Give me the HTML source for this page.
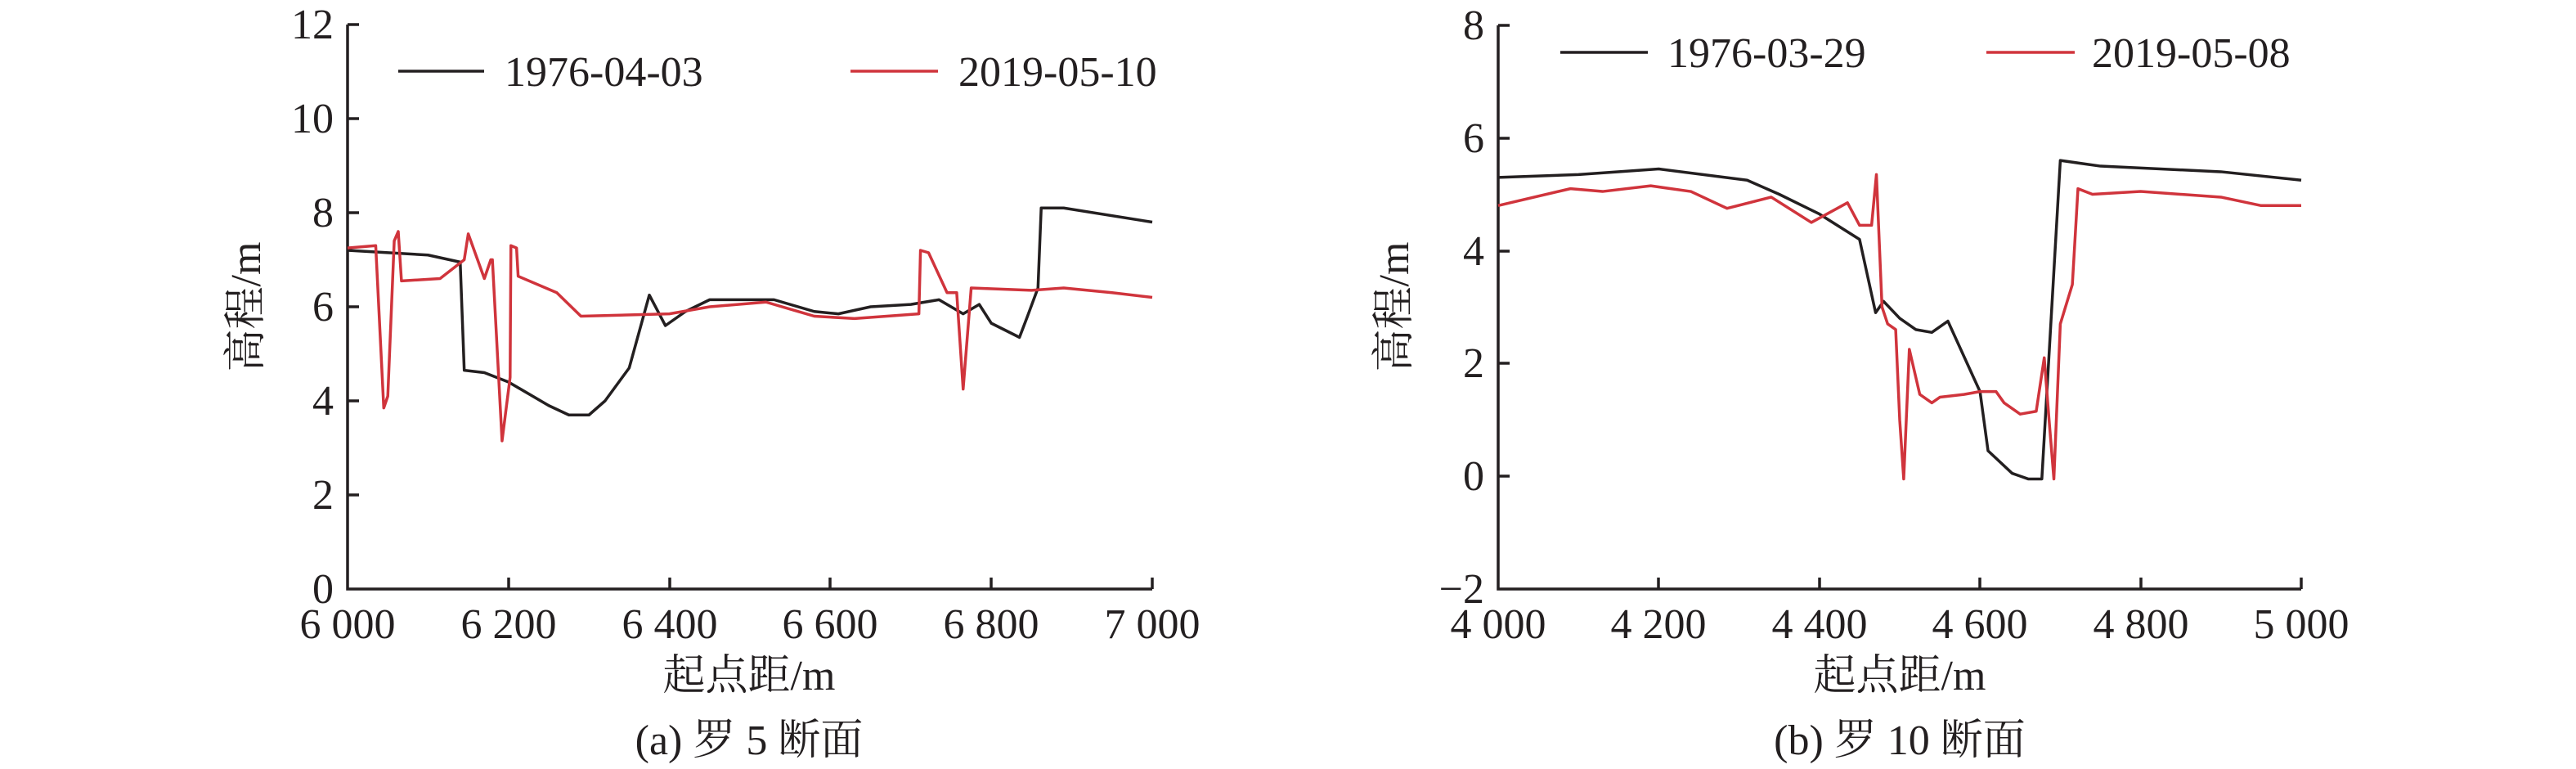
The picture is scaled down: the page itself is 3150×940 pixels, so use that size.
<!DOCTYPE html>
<html><head><meta charset="utf-8"><style>
html,body{margin:0;padding:0;background:#fff;}
svg{display:block;}
</style></head><body>
<svg width="3150" height="940" viewBox="0 0 3150 940" xmlns="http://www.w3.org/2000/svg" font-family="'Liberation Serif', 'Noto Serif CJK SC', serif" fill="#231f20">
<!-- Chart A -->
<g stroke="#231f20" stroke-width="3.5" fill="none">
<polyline points="425,30 425,720 1409,720"/>
<line x1="1409" y1="720" x2="1409" y2="706"/>
<line x1="622" y1="720" x2="622" y2="706"/><line x1="819" y1="720" x2="819" y2="706"/><line x1="1015" y1="720" x2="1015" y2="706"/><line x1="1212" y1="720" x2="1212" y2="706"/>
<line x1="425" y1="30" x2="439" y2="30"/><line x1="425" y1="145" x2="439" y2="145"/><line x1="425" y1="260" x2="439" y2="260"/><line x1="425" y1="375" x2="439" y2="375"/><line x1="425" y1="490" x2="439" y2="490"/><line x1="425" y1="605" x2="439" y2="605"/>
</g>
<g font-size="52" text-anchor="end">
<text x="408" y="737">0</text><text x="408" y="622">2</text><text x="408" y="507">4</text><text x="408" y="392">6</text><text x="408" y="277">8</text><text x="408" y="162">10</text><text x="408" y="47">12</text>
</g>
<g font-size="52" text-anchor="middle">
<text x="425" y="780">6 000</text><text x="622" y="780">6 200</text><text x="819" y="780">6 400</text><text x="1015" y="780">6 600</text><text x="1212" y="780">6 800</text><text x="1409" y="780">7 000</text>
<text x="916" y="843">起点距/m</text>
<text x="916" y="922">(a) 罗 5 断面</text>
<text transform="translate(318,375) rotate(-90)">高程/m</text>
</g>
<g transform="matrix(0.984,0,0,-57.5,-5479,720)" fill="none" stroke-linejoin="round">
<polyline vector-effect="non-scaling-stroke" stroke="#231f20" stroke-width="3.5" points="6000,7.2 6100,7.1 6140,6.95 6145,4.65 6170,4.6 6200,4.4 6250,3.9 6275,3.7 6300,3.7 6320,4.0 6350,4.7 6375,6.25 6395,5.6 6420,5.9 6450,6.15 6530,6.15 6580,5.9 6610,5.85 6650,6.0 6700,6.05 6735,6.15 6765,5.85 6785,6.05 6800,5.65 6835,5.35 6845,5.8 6858,6.4 6862,8.1 6890,8.1 7000,7.8"/>
<polyline vector-effect="non-scaling-stroke" stroke="#d0343c" stroke-width="3.5" points="6000,7.25 6035,7.3 6045,3.85 6050,4.1 6058,7.4 6063,7.6 6067,6.55 6115,6.6 6145,7.0 6150,7.55 6170,6.6 6178,7.0 6180,7.0 6192,3.15 6202,4.5 6203,7.3 6210,7.25 6212,6.65 6260,6.3 6290,5.8 6400,5.85 6450,6.0 6520,6.1 6580,5.8 6630,5.75 6710,5.85 6712,7.2 6722,7.15 6745,6.3 6757,6.3 6765,4.25 6775,6.4 6850,6.35 6890,6.4 6950,6.3 7000,6.2"/>
</g>
<line x1="487" y1="87" x2="592" y2="87" stroke="#231f20" stroke-width="3.5"/>
<text x="617" y="105" font-size="52">1976-04-03</text>
<line x1="1040" y1="87" x2="1147" y2="87" stroke="#d0343c" stroke-width="3.5"/>
<text x="1172" y="105" font-size="52">2019-05-10</text>

<!-- Chart B -->
<g stroke="#231f20" stroke-width="3.5" fill="none">
<polyline points="1832,31 1832,720 2814,720"/>
<line x1="2814" y1="720" x2="2814" y2="706"/>
<line x1="2028" y1="720" x2="2028" y2="706"/><line x1="2225" y1="720" x2="2225" y2="706"/><line x1="2421" y1="720" x2="2421" y2="706"/><line x1="2618" y1="720" x2="2618" y2="706"/>
<line x1="1832" y1="31" x2="1846" y2="31"/><line x1="1832" y1="169" x2="1846" y2="169"/><line x1="1832" y1="307" x2="1846" y2="307"/><line x1="1832" y1="444" x2="1846" y2="444"/><line x1="1832" y1="582" x2="1846" y2="582"/>
</g>
<g font-size="52" text-anchor="end">
<text x="1815" y="737">−2</text><text x="1815" y="599">0</text><text x="1815" y="461">2</text><text x="1815" y="324">4</text><text x="1815" y="186">6</text><text x="1815" y="48">8</text>
</g>
<g font-size="52" text-anchor="middle">
<text x="1832" y="780">4 000</text><text x="2028" y="780">4 200</text><text x="2225" y="780">4 400</text><text x="2421" y="780">4 600</text><text x="2618" y="780">4 800</text><text x="2814" y="780">5 000</text>
<text x="2323" y="843">起点距/m</text>
<text x="2323" y="922">(b) 罗 10 断面</text>
<text transform="translate(1722,375) rotate(-90)">高程/m</text>
</g>
<g transform="matrix(0.982,0,0,-68.9,-2096,582)" fill="none" stroke-linejoin="round">
<polyline vector-effect="non-scaling-stroke" stroke="#231f20" stroke-width="3.5" points="4000,5.3 4100,5.35 4200,5.45 4310,5.25 4350,5.0 4400,4.65 4450,4.2 4470,2.9 4480,3.1 4500,2.8 4520,2.6 4540,2.55 4560,2.75 4600,1.5 4610,0.45 4640,0.05 4650,0.0 4660,-0.05 4677,-0.05 4700,5.6 4750,5.5 4900,5.4 5000,5.25"/>
<polyline vector-effect="non-scaling-stroke" stroke="#d0343c" stroke-width="3.5" points="4000,4.8 4090,5.1 4130,5.05 4190,5.15 4240,5.05 4285,4.75 4340,4.95 4390,4.5 4435,4.85 4450,4.45 4465,4.45 4471,5.35 4478,3.0 4485,2.7 4495,2.6 4500,1.0 4505,-0.05 4512,2.25 4525,1.45 4540,1.3 4550,1.4 4580,1.45 4600,1.5 4620,1.5 4630,1.3 4650,1.1 4670,1.15 4680,2.1 4686,1.0 4692,-0.05 4700,2.7 4715,3.4 4722,5.1 4740,5.0 4800,5.05 4900,4.95 4950,4.8 5000,4.8"/>
</g>
<line x1="1908" y1="64" x2="2015" y2="64" stroke="#231f20" stroke-width="3.5"/>
<text x="2039" y="82" font-size="52">1976-03-29</text>
<line x1="2429" y1="64" x2="2537" y2="64" stroke="#d0343c" stroke-width="3.5"/>
<text x="2558" y="82" font-size="52">2019-05-08</text>
</svg>
</body></html>
